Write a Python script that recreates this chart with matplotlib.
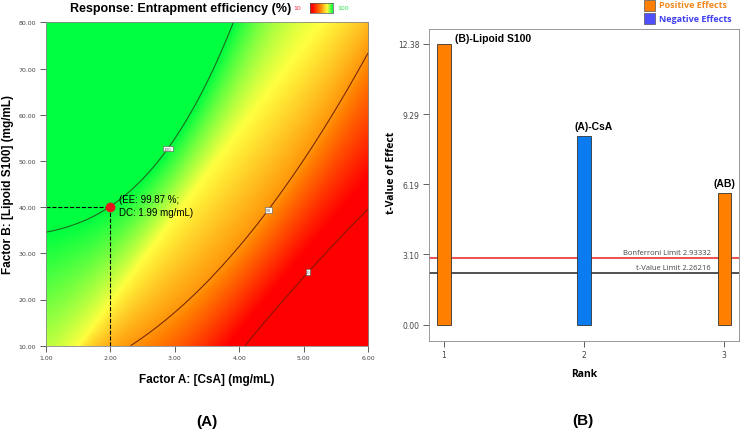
import numpy as np
import matplotlib
matplotlib.use("Agg")
import matplotlib.pyplot as plt
from matplotlib.colors import LinearSegmentedColormap

# ---------------- data ----------------
# contour points (A = CsA mg/mL, B = Lipoid S100 mg/mL)
c100_A = [1.0, 2.0, 2.88, 3.25, 3.91]
c100_B = [34.6, 40.0, 52.8, 60.0, 80.0]
c50_A = [2.33, 3.83, 4.43, 5.47, 6.0]
c50_B = [10.0, 28.8, 39.6, 59.0, 74.2]
c0_A = [4.09, 5.07, 6.03]
c0_B = [10.0, 25.9, 40.0]
# centre of the yellow colour band (read from the shading)
yellow_A = [1.5, 3.1, 5.26]
yellow_B = [10.0, 40.0, 80.0]
yellow_level = 75
contour_levels = [0, 50, 100]
label_pos = [(5.07, 25.9), (4.43, 39.6), (2.88, 52.8)]
opt_A, opt_B = 2.0, 40.0
opt_text = "(EE: 99.87 %;\nDC: 1.99 mg/mL)"

ranks = [1, 2, 3]
t_values = [12.38, 8.34, 5.80]
effect_names = ["(B)-Lipoid S100", "(A)-CsA", "(AB)"]
effect_sign = ["pos", "neg", "pos"]
bonferroni = 2.93332
t_limit = 2.26216
yticks_b = [0.00, 3.10, 6.19, 9.29, 12.38]

# ---------------- surface built from the read iso-curves ----------------
a_grid = np.linspace(1, 6, 400)
b_grid = np.linspace(10, 80, 400)
curves = [(0, c0_A, c0_B, 2), (50, c50_A, c50_B, 2),
          (yellow_level, yellow_A, yellow_B, 2), (100, c100_A, c100_B, 3)]
Bk = np.array([np.polyval(np.polyfit(ca, cb, dg), a_grid)
               for _, ca, cb, dg in curves])          # (4, nA)
Bk = np.maximum.accumulate(Bk, axis=0) + np.arange(4)[:, None] * 1e-3
zk = np.array([c[0] for c in curves], float)
ZZ = np.empty((b_grid.size, a_grid.size))
for j in range(a_grid.size):
    xp = np.concatenate([[Bk[0, j] - 500], Bk[:, j], [Bk[-1, j] + 500]])
    fp = np.concatenate([[-500], zk, [600]])
    ZZ[:, j] = np.interp(b_grid, xp, fp)
AA, BB = np.meshgrid(a_grid, b_grid)

cmap = LinearSegmentedColormap.from_list(
    "ee", [(0.0, (1, 0, 0)), (0.1, (1, 0, 0)), (0.45, (1, 0.5, 0)),
           (0.75, (1, 1, 0.25)), (1.0, (0, 1, 0.25))])

fig = plt.figure(figsize=(7.42, 4.31), dpi=100)
W, H = 742, 431

def fx(px):
    return px / W

def fy(py):
    return 1 - py / H

# ---------------- panel A ----------------
ax = fig.add_axes([fx(45.7), fy(346.7), fx(368 - 45.7), (346.7 - 23.3) / H])
ax.imshow(ZZ, extent=[1, 6, 10, 80], origin="lower", aspect="auto",
          cmap=cmap, vmin=0, vmax=100, interpolation="bilinear")
cs = ax.contour(AA, BB, ZZ, levels=contour_levels,
                colors=["#8a1500", "#7a2a00", "#1e6a1e"], linewidths=0.8)
lbls = ax.clabel(cs, fmt="%d", fontsize=3, manual=label_pos, inline=False)
for t in lbls:
    t.set_rotation(0)
    t.set_bbox(dict(facecolor="white", edgecolor="#555555", pad=0.6, lw=0.4))
    t.set_color("#555555")
ax.plot([1, opt_A], [opt_B, opt_B], "k--", lw=0.8)
ax.plot([opt_A, opt_A], [10, opt_B], "k--", lw=0.8)
ax.plot(opt_A, opt_B, "o", color="#e8141c", ms=6, zorder=5)
ax.text(2.13, 40.4, opt_text, fontsize=7, family="Liberation Sans",
        va="center", ha="left", linespacing=1.35)
ax.set_xlim(1, 6)
ax.set_ylim(10, 80)
ax.set_xticks([1, 2, 3, 4, 5, 6])
ax.set_yticks([10, 20, 30, 40, 50, 60, 70, 80])
ax.set_xticklabels([f"{v:.2f}" for v in [1, 2, 3, 4, 5, 6]])
ax.set_yticklabels([f"{v:.2f}" for v in [10, 20, 30, 40, 50, 60, 70, 80]])
ax.tick_params(labelsize=4.5, colors="#444444", length=4, width=0.6, pad=3)
for s in ax.spines.values():
    s.set_color("#888888")
    s.set_linewidth(0.6)
ax.set_xlabel("Factor A: [CsA] (mg/mL)", fontsize=8.5, fontweight="bold",
              family="Liberation Sans", labelpad=9)
fig.text(fx(8), fy(185), "Factor B: [Lipoid S100] (mg/mL)", fontsize=8.5,
         fontweight="bold", family="Liberation Sans", rotation=90,
         ha="center", va="center")

fig.text(fx(181), fy(9), "Response: Entrapment efficiency (%)", fontsize=9,
         fontweight="bold", family="Liberation Sans", ha="center", va="center")
fig.text(fx(297), fy(9), "10", fontsize=4.5, color="#e8304a", ha="center",
         va="center")
fig.text(fx(343), fy(9), "100", fontsize=4.5, color="#30e050", ha="center",
         va="center")
cax = fig.add_axes([fx(310), fy(14), fx(23), 10 / H])
cax.imshow(np.linspace(0, 1, 100)[None, :], cmap=cmap, aspect="auto")
cax.set_xticks([])
cax.set_yticks([])
for s in cax.spines.values():
    s.set_color("#555555")
    s.set_linewidth(0.5)
fig.text(fx(207), fy(422), "(A)", fontsize=11, fontweight="bold",
         family="Liberation Sans", ha="center", va="center")

# ---------------- panel B ----------------
bx = fig.add_axes([fx(429), fy(341.7), fx(739 - 429), (341.7 - 30) / H])
cols = {"pos": "#ff8000", "neg": "#0a7cf0"}
bx.bar(ranks, t_values, width=0.095, color=[cols[s] for s in effect_sign],
       edgecolor="#333333", linewidth=0.6, zorder=3)
bx.axhline(bonferroni, color="#e82020", lw=1.1, zorder=2)
bx.axhline(t_limit, color="#222222", lw=1.1, zorder=2)
bx.text(2.905, bonferroni + 0.1, f"Bonferroni Limit {bonferroni:.5f}",
        fontsize=5.5, ha="right", va="bottom", color="#444444",
        family="Open Sans")
bx.text(2.905, t_limit + 0.1, f"t-Value Limit {t_limit:.5f}",
        fontsize=5.5, ha="right", va="bottom", color="#444444",
        family="Open Sans")
bx.text(1.08, 12.63, effect_names[0], fontsize=7.5, fontweight="bold",
        family="Liberation Sans", ha="left", va="center")
bx.text(2.07, 8.78, effect_names[1], fontsize=7.5, fontweight="bold",
        family="Liberation Sans", ha="center", va="center")
bx.text(3.0, 6.25, effect_names[2], fontsize=7.5, fontweight="bold",
        family="Liberation Sans", ha="center", va="center")
bx.set_xlim(0.893, 3.105)
bx.set_ylim(-0.71, 13.04)
bx.set_xticks(ranks)
bx.set_yticks(yticks_b)
bx.set_yticklabels([f"{v:.2f}" for v in yticks_b])
bx.tick_params(labelsize=5.5, colors="#444444", length=4, width=0.6, pad=3)
for s in bx.spines.values():
    s.set_color("#888888")
    s.set_linewidth(0.6)
bx.set_xlabel("Rank", fontsize=7.5, fontweight="bold", family="Open Sans",
              labelpad=6)
fig.text(fx(392), fy(173), "t-Value of Effect", fontsize=7.5,
         fontweight="bold", family="Open Sans", rotation=90,
         ha="center", va="center")

# legend boxes
for i, (lab, fc, tc) in enumerate([("Positive Effects", "#ff8000", "#f08a20"),
                                   ("Negative Effects", "#5050ff", "#4040f0")]):
    yc = 6 + i * 13
    fig.patches.append(plt.Rectangle((fx(644), fy(yc + 5.5)), fx(11), 11 / H,
                                     transform=fig.transFigure,
                                     facecolor=fc, edgecolor="#555555",
                                     lw=0.5))
    fig.text(fx(659), fy(yc), lab, fontsize=6.5, fontweight="bold",
             color=tc, family="Open Sans", ha="left", va="center")
fig.text(fx(583), fy(421), "(B)", fontsize=11, fontweight="bold",
         family="Liberation Sans", ha="center", va="center")

fig.savefig("out.png", dpi=100)
